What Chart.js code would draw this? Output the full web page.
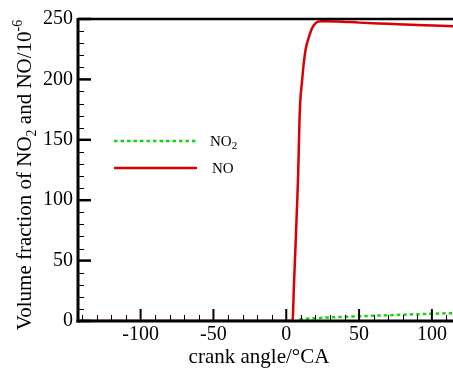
<!DOCTYPE html>
<html>
<head>
<meta charset="utf-8">
<script src="https://cdn.jsdelivr.net/npm/chart.js@4/dist/chart.umd.min.js"></script>
<style>
  html, body { margin: 0; padding: 0; background: #fff; }
</style>
</head>
<body>
<canvas id="chart" width="453" height="370"></canvas>
<script>
// data
const noAngle = [-143, 4.3, 5.3, 6.4, 7.4, 8.2, 9.0, 9.6, 10.8, 12, 13.5, 15.3, 17.8, 20, 22, 25, 35, 50, 70, 90, 114.5];
const noValue = [0, 0, 30, 63, 95, 122, 162, 181, 198, 213, 226, 234, 242.5, 246.3, 247.8, 248.2, 248, 247, 246, 245, 244];
const no2Angle = [9, 20, 30, 50, 75, 100, 114.5];
const no2Value = [1.5, 2.3, 3, 3.9, 5, 6, 6.5];
const xTicks = [-100, -50, 0, 50, 100];
const yTicks = [0, 50, 100, 150, 200, 250];
const seriesNames = ['NO2', 'NO'];

const serif = "'Liberation Serif', 'Times New Roman', serif";
const red = '#d80000';
const green = '#14d414';

// axes frame, inward ticks, titles and legend
const frame = {
  id: 'frame',
  afterDatasetsDraw(chart) {
    const { ctx, chartArea: a, scales: { x, y } } = chart;
    const seg = (x1, y1, x2, y2) => { ctx.beginPath(); ctx.moveTo(x1, y1); ctx.lineTo(x2, y2); ctx.stroke(); };
    ctx.save();
    ctx.strokeStyle = '#000';

    // minor ticks every 10
    ctx.lineWidth = 1;
    for (let v = Math.ceil(x.min / 10) * 10; v <= x.max; v += 10) {
      if (xTicks.includes(v)) continue;
      const px = Math.round(x.getPixelForValue(v)) + 0.5;
      seg(px, a.bottom, px, a.bottom - 6);
    }
    for (let v = 10; v < y.max; v += 10) {
      if (yTicks.includes(v)) continue;
      const py = Math.round(y.getPixelForValue(v)) + 0.5;
      seg(a.left, py, a.left + 6, py);
    }
    // major ticks
    ctx.lineWidth = 2;
    xTicks.forEach(v => {
      const px = x.getPixelForValue(v);
      seg(px, a.bottom, px, a.bottom - 12);
    });
    ctx.lineWidth = 2.5;
    yTicks.forEach(v => {
      const py = y.getPixelForValue(v);
      seg(a.left, py, a.left + 13, py);
    });

    // axis lines
    ctx.lineWidth = 2.3;
    seg(a.left, a.top, a.right, a.top);
    ctx.lineWidth = 3;
    seg(a.left, a.top - 1, a.left, a.bottom + 1.5);
    seg(a.left - 1.5, a.bottom, a.right, a.bottom);

    // x title
    ctx.fillStyle = '#000';
    ctx.font = '21px ' + serif;
    ctx.textAlign = 'center';
    ctx.textBaseline = 'alphabetic';
    ctx.fillText('crank angle/°CA', 259, 363);

    // y title with sub/superscript
    const parts = [
      ['Volume fraction of NO', 21, 0],
      ['2', 14, 5],
      [' and NO/10', 21, 0],
      ['-6', 14, -9]
    ];
    let total = 0;
    parts.forEach(p => { ctx.font = p[1] + 'px ' + serif; total += ctx.measureText(p[0]).width; });
    ctx.translate(31, 175);
    ctx.rotate(-Math.PI / 2);
    ctx.textAlign = 'left';
    let cx = -total / 2;
    parts.forEach(p => {
      ctx.font = p[1] + 'px ' + serif;
      ctx.fillText(p[0], cx, p[2]);
      cx += ctx.measureText(p[0]).width;
    });
    ctx.setTransform(1, 0, 0, 1, 0, 0);

    // legend
    const rows = [
      { y: 141, ds: chart.data.datasets[0], tx: 210 },
      { y: 168, ds: chart.data.datasets[1], tx: 212 }
    ];
    rows.forEach(r => {
      ctx.strokeStyle = r.ds.borderColor;
      ctx.lineWidth = r.ds.borderWidth;
      ctx.setLineDash(r.ds.borderDash || []);
      seg(114, r.y, 197, r.y);
      ctx.setLineDash([]);
      ctx.fillStyle = '#000';
      ctx.textAlign = 'left';
      ctx.font = '15px ' + serif;
      const name = r.ds.label;
      if (name === 'NO2') {
        ctx.fillText('NO', r.tx, r.y + 5);
        const w = ctx.measureText('NO').width;
        ctx.font = '11px ' + serif;
        ctx.fillText('2', r.tx + w, r.y + 8);
      } else {
        ctx.fillText(name, r.tx, r.y + 5);
      }
    });
    ctx.restore();
  }
};

const tickFont = { family: serif, size: 20 };

new Chart(document.getElementById('chart'), {
  type: 'line',
  data: {
    datasets: [
      {
        label: seriesNames[0],
        data: no2Angle.map((a, i) => ({ x: a, y: no2Value[i] })),
        borderColor: green,
        borderWidth: 2.5,
        borderDash: [3.5, 3],
        pointRadius: 0,
        fill: false,
        cubicInterpolationMode: 'monotone'
      },
      {
        label: seriesNames[1],
        data: noAngle.map((a, i) => ({ x: a, y: noValue[i] })),
        borderColor: red,
        borderWidth: 2.5,
        pointRadius: 0,
        fill: false,
        cubicInterpolationMode: 'monotone'
      }
    ]
  },
  options: {
    responsive: false,
    animation: false,
    devicePixelRatio: 1,
    layout: { padding: { top: 19, right: 0, left: 0, bottom: 0 } },
    plugins: { legend: { display: false }, tooltip: { enabled: false } },
    scales: {
      x: {
        type: 'linear',
        min: -143,
        max: 114.5,
        grid: { display: false, drawTicks: false },
        border: { display: false },
        afterBuildTicks: s => { s.ticks = xTicks.map(v => ({ value: v })); },
        afterFit: s => { s.height = 49; },
        ticks: { font: tickFont, color: '#000', padding: 2, maxRotation: 0, autoSkip: false }
      },
      y: {
        type: 'linear',
        min: 0,
        max: 250,
        grid: { display: false, drawTicks: false },
        border: { display: false },
        afterBuildTicks: s => { s.ticks = yTicks.map(v => ({ value: v })); },
        afterFit: s => { s.width = 78; },
        ticks: { font: tickFont, color: '#000', padding: 5, autoSkip: false }
      }
    }
  },
  plugins: [frame]
});
</script>
</body>
</html>
